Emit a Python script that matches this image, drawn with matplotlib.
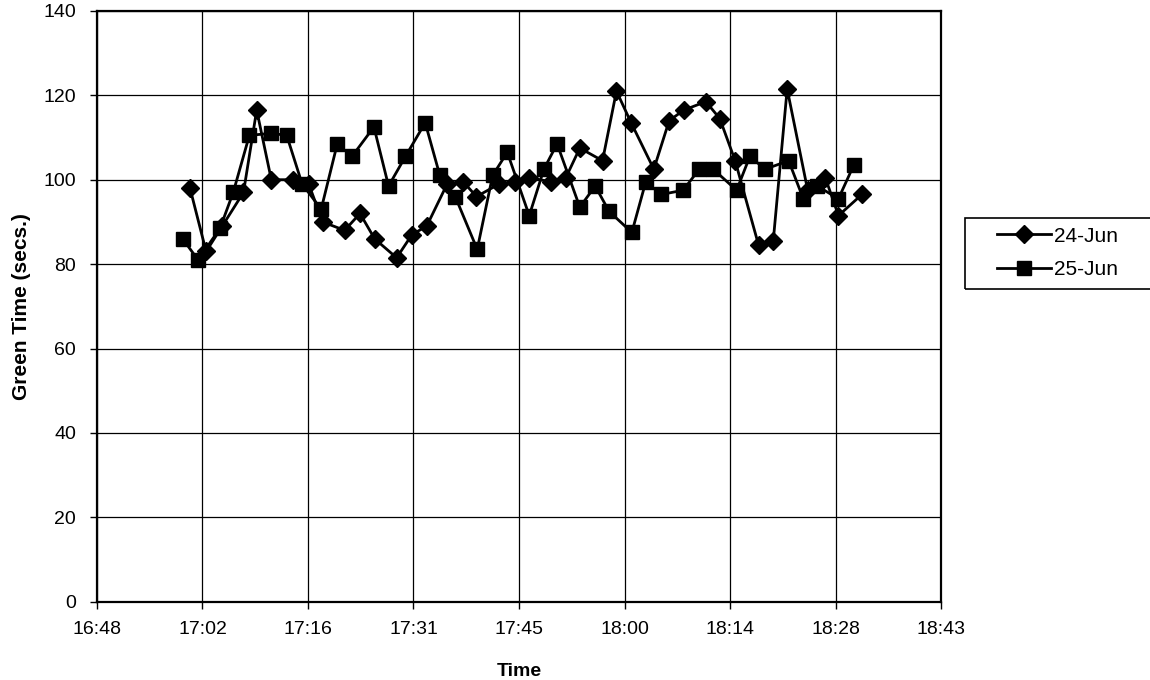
import numpy as np
import matplotlib
matplotlib.use("Agg")
import matplotlib.pyplot as plt
from matplotlib.patches import Rectangle
from matplotlib.ticker import FuncFormatter

plt.rcParams['font.family'] = ['Liberation Sans', 'DejaVu Sans']

# 24-Jun readings (clock time, green time in secs)
times_24 = ["17:00:42", "17:02:54", "17:05:06", "17:08:00", "17:09:48", "17:11:48",
            "17:14:48", "17:16:54", "17:18:48", "17:21:48", "17:23:54", "17:25:54",
            "17:28:54", "17:31:00", "17:33:00", "17:35:48", "17:38:00", "17:39:48",
            "17:42:54", "17:45:00", "17:46:54", "17:50:00", "17:52:00", "17:53:54",
            "17:57:00", "17:58:54", "18:00:54", "18:04:00", "18:06:06", "18:08:06",
            "18:11:06", "18:13:00", "18:15:06", "18:18:18", "18:20:18", "18:22:12",
            "18:25:00", "18:27:24", "18:29:12", "18:32:24"]
green_24 = [98, 83, 89, 97, 116.5, 100, 100, 99, 90, 88, 92, 86, 81.5, 87, 89,
            99, 99.5, 96, 99, 99.5, 100.5, 99.5, 100.5, 107.5, 104.5, 121, 113.5,
            102.5, 114, 116.5, 118.5, 114.5, 104.5, 84.5, 85.5, 121.5, 97.5,
            100.5, 91.5, 96.5]

# 25-Jun readings
times_25 = ["16:59:42", "17:01:48", "17:04:48", "17:06:36", "17:08:48", "17:11:48",
            "17:13:54", "17:16:00", "17:18:36", "17:20:48", "17:22:48", "17:25:48",
            "17:27:48", "17:30:06", "17:32:48", "17:34:48", "17:36:54", "17:39:54",
            "17:42:00", "17:44:00", "17:47:00", "17:49:00", "17:50:48", "17:53:54",
            "17:56:00", "17:57:54", "18:01:00", "18:02:54", "18:05:00", "18:08:00",
            "18:10:12", "18:12:06", "18:15:18", "18:17:06", "18:19:12", "18:22:24",
            "18:24:24", "18:26:18", "18:29:12", "18:31:18"]
green_25 = [86, 81, 88.5, 97, 110.5, 111, 110.5, 99, 93, 108.5, 105.5, 112.5,
            98.5, 105.5, 113.5, 101, 96, 83.5, 101, 106.5, 91.5, 102.5, 108.5,
            93.5, 98.5, 92.5, 87.5, 99.5, 96.5, 97.5, 102.5, 102.5, 97.5, 105.5,
            102.5, 104.5, 95.5, 98.5, 95.5, 103.5]


def day_fraction(s):
    h, m, sec = [int(p) for p in s.split(":")]
    return (h * 3600 + m * 60 + sec) / 86400.0


def fmt_time(x, pos):
    # excel style h:mm, seconds dropped
    mins = int(round(x * 1440 * 60)) // 60
    return "%d:%02d" % (mins // 60, mins % 60)


x24 = [day_fraction(t) for t in times_24]
x25 = [day_fraction(t) for t in times_25]

fig = plt.figure(figsize=(11.5, 6.8), dpi=100)
ax = fig.add_axes([0.0843, 0.115, 0.7340, 0.869])

ax.plot(x24, green_24, color="black", lw=2, marker="D", ms=9.5, label="24-Jun", zorder=3)
ax.plot(x25, green_25, color="black", lw=2, marker="s", ms=10, label="25-Jun", zorder=3)

ax.set_xlim(0.70, 0.78)
ax.set_ylim(0, 140)
ax.set_xticks(np.arange(0.70, 0.7801, 0.01))
ax.set_yticks(np.arange(0, 141, 20))
ax.xaxis.set_major_formatter(FuncFormatter(fmt_time))
ax.grid(True, color="black", lw=0.9)
ax.set_axisbelow(True)
for sp in ax.spines.values():
    sp.set_linewidth(1.6)
ax.tick_params(direction="out", length=5, labelsize=14, width=1)
ax.tick_params(axis="x", pad=9)
ax.tick_params(axis="y", pad=10)

ax.set_xlabel("Time", fontsize=14, fontweight="bold", labelpad=18)
ax.set_ylabel("Green Time (secs.)", fontsize=15, fontweight="bold", labelpad=9)

# legend box drawn by hand so it can be wider than the entries
fig.patches.append(Rectangle((965 / 1150, 1 - 289 / 680), 188 / 1150, 71 / 680,
                             transform=fig.transFigure, fill=False,
                             edgecolor="black", lw=1.2))
fig.legend(loc="center left", bbox_to_anchor=(997 / 1150, 1 - 253 / 680),
           frameon=False, fontsize=15, handlelength=2.6, handletextpad=0.15,
           borderpad=0, borderaxespad=0, labelspacing=0.7)

fig.savefig("out.png", dpi=100)
